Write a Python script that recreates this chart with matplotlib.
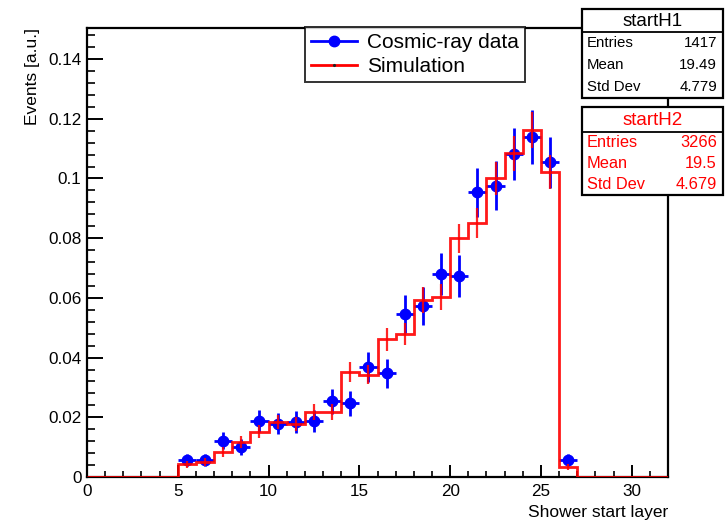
import matplotlib
matplotlib.use("Agg")
import matplotlib.pyplot as plt
from matplotlib.patches import Rectangle
from matplotlib.lines import Line2D
from matplotlib.ticker import MultipleLocator, FuncFormatter
import numpy as np

plt.rcParams['font.family'] = ['Liberation Sans', 'DejaVu Sans']

# Shower start layer histograms (normalised to unit area)
bin_edges = np.arange(5, 28, 1)                      # 5 .. 27
data_centers = [5.5, 6.5, 7.5, 8.5, 9.5, 10.5, 11.5, 12.5, 13.5, 14.5, 15.5,
                16.5, 17.5, 18.5, 19.5, 20.5, 21.5, 22.5, 23.5, 24.5, 25.5, 26.5]
data_values = [0.0058, 0.0058, 0.0122, 0.0100, 0.0189, 0.0178, 0.0184, 0.0189,
               0.0254, 0.0247, 0.0369, 0.0347, 0.0546, 0.0574, 0.0680, 0.0673,
               0.0954, 0.0976, 0.1082, 0.1138, 0.1054, 0.0058]
data_errors = [0.0020, 0.0020, 0.0029, 0.0027, 0.0037, 0.0035, 0.0036, 0.0037,
               0.0042, 0.0042, 0.0051, 0.0049, 0.0062, 0.0064, 0.0069, 0.0069,
               0.0082, 0.0083, 0.0087, 0.0090, 0.0086, 0.0020]
sim_values = [0.0042, 0.0050, 0.0083, 0.0117, 0.0152, 0.0184, 0.0178, 0.0217,
              0.0217, 0.0351, 0.0342, 0.0461, 0.0479, 0.0593, 0.0602, 0.0800,
              0.0850, 0.1000, 0.1084, 0.1161, 0.1021, 0.0035]
sim_errors = [0.0011, 0.0012, 0.0016, 0.0019, 0.0022, 0.0024, 0.0023, 0.0026,
              0.0026, 0.0033, 0.0032, 0.0038, 0.0038, 0.0043, 0.0043, 0.0049,
              0.0051, 0.0055, 0.0058, 0.0060, 0.0056, 0.0010]

stats_h1 = [("Entries", "1417"), ("Mean", "19.49"), ("Std Dev", "4.779")]
stats_h2 = [("Entries", "3266"), ("Mean", "19.5"), ("Std Dev", "4.679")]

W, H = 725, 523
fig = plt.figure(figsize=(W / 100, H / 100), dpi=100)
ax = fig.add_axes([87 / W, 46 / H, 581 / W, 449 / H])

# data points with horizontal (bin width) and vertical error bars
ax.errorbar(data_centers, data_values, xerr=0.5, yerr=data_errors,
            fmt='o', color='#0000ff', ecolor='#0000ff', markersize=7.5,
            elinewidth=2.0, capsize=0, zorder=3)

# simulation step histogram spanning the full axis range
full_edges = np.concatenate(([0], bin_edges, [32]))
full_vals = np.concatenate(([0], sim_values, [0]))
ax.stairs(full_vals, full_edges, color='#ff0000', linewidth=2.0,
          baseline=None, zorder=4, alpha=0.9)
ax.errorbar(data_centers, sim_values, yerr=sim_errors, fmt='none',
            ecolor='#ff0000', elinewidth=1.6, capsize=0, zorder=4, alpha=0.85)

ax.set_xlim(0, 32)
ax.set_ylim(0, 0.1504)

ax.xaxis.set_major_locator(MultipleLocator(5))
ax.xaxis.set_minor_locator(MultipleLocator(1))
ax.yaxis.set_major_locator(MultipleLocator(0.02))
ax.yaxis.set_minor_locator(MultipleLocator(0.004))


def yfmt(v, pos):
    if abs(v) < 1e-9:
        return "0"
    s = f"{v:.2f}"
    return s.rstrip('0') if s.endswith('0') else s


ax.yaxis.set_major_formatter(FuncFormatter(yfmt))

ax.tick_params(axis='x', which='major', direction='in', length=8.6, width=1.4,
               labelsize=12.3, pad=5, top=False)
ax.tick_params(axis='x', which='minor', direction='in', length=4.3, width=1.2,
               top=False)
ax.tick_params(axis='y', which='major', direction='in', length=11.5, width=1.4,
               labelsize=12.3, pad=4, right=False)
ax.tick_params(axis='y', which='minor', direction='in', length=5.4, width=1.2,
               right=False)
for sp in ax.spines.values():
    sp.set_linewidth(1.6)

ax.set_xlabel("Shower start layer", loc='right', fontsize=12.5, labelpad=4)
ax.set_ylabel("Events [a.u.]", loc='top', fontsize=12.5, labelpad=6)

# legend box
handles = [
    Line2D([0], [0], color='#0000ff', lw=2.0, marker='o', markersize=7.5),
    Line2D([0], [0], color='#ff0000', lw=2.0, marker='.', markersize=2.5,
           markerfacecolor='#222222', markeredgecolor='#222222'),
]
leg = fig.legend(handles, ["Cosmic-ray data", "Simulation"],
                 loc='upper left', bbox_to_anchor=(305 / W, 1 - 27 / H),
                 fontsize=15, frameon=True, fancybox=False, edgecolor='black',
                 handlelength=2.2, handletextpad=0.5, borderpad=0.28,
                 labelspacing=0.25, borderaxespad=0)
leg.get_frame().set_linewidth(1.4)


def fx(x):
    return x / W


def fy(y):
    return 1 - y / H


def stats_box(title, rows, top, sep, bottom, color, tsize, rsize):
    left, right = 581.7, 723
    fig.patches.append(Rectangle((fx(left), fy(bottom)), fx(right - left),
                                 (bottom - top) / H, transform=fig.transFigure,
                                 facecolor='white', edgecolor='black',
                                 linewidth=1.6, zorder=10))
    fig.lines.append(Line2D([fx(left), fx(right)], [fy(sep), fy(sep)],
                            transform=fig.transFigure, color='black',
                            linewidth=1.3, zorder=11))
    fig.text(fx((left + right) / 2), fy((top + sep) / 2 + 1), title,
             color=color, fontsize=tsize, ha='center', va='center', zorder=12)
    n = len(rows)
    step = (bottom - sep) / n
    for i, (k, v) in enumerate(rows):
        yc = sep + step * (i + 0.5)
        fig.text(fx(587), fy(yc), k, color=color, fontsize=rsize,
                 ha='left', va='center', zorder=12)
        fig.text(fx(717), fy(yc), v, color=color, fontsize=rsize,
                 ha='right', va='center', zorder=12)


stats_box("startH1", stats_h1, 9.3, 31.7, 98.3, 'black', 13.5, 10.8)
stats_box("startH2", stats_h2, 107.3, 131.7, 195, '#ff0000', 13.5, 11.8)

fig.savefig("out.png", dpi=100)
